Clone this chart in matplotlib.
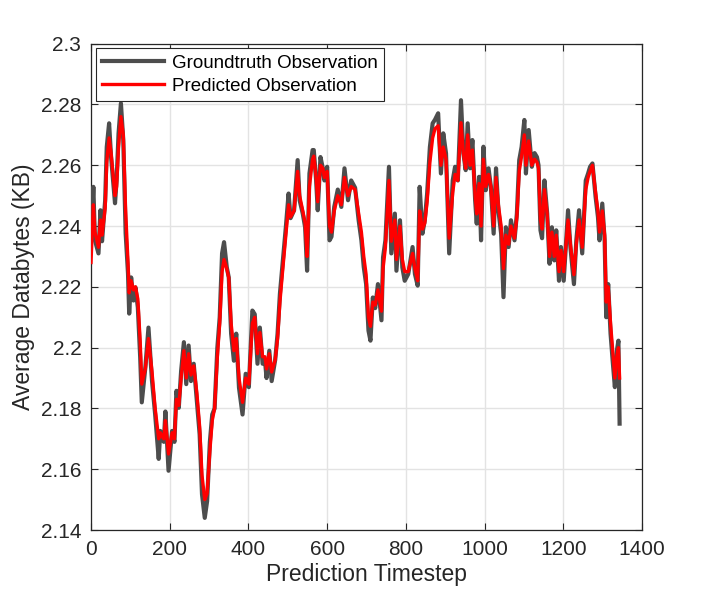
import matplotlib
matplotlib.use("Agg")
import matplotlib.pyplot as plt

timestep = [0, 6, 10, 19, 24, 28, 36, 40, 46, 51, 61, 65, 70, 76, 82, 88, 94, 97, 102, 108,
            113, 119, 125, 129, 138, 146, 155, 163, 172, 176, 180, 185, 189, 197, 206, 212, 217, 223, 229, 236,
            242, 248, 254, 261, 269, 276, 282, 289, 295, 302, 308, 314, 321, 327, 333, 338, 345, 350, 356, 363,
            369, 376, 385, 393, 401, 410, 416, 423, 429, 436, 442, 446, 453, 459, 468, 474, 480, 486, 495, 502,
            507, 516, 525, 530, 538, 544, 549, 555, 563, 566, 572, 576, 583, 589, 593, 600, 606, 611, 618, 627,
            636, 644, 653, 661, 671, 680, 687, 693, 699, 705, 710, 716, 722, 729, 738, 742, 748, 757, 763, 772,
            776, 785, 791, 797, 806, 817, 823, 830, 835, 842, 848, 854, 861, 868, 874, 882, 889, 895, 902, 910,
            919, 925, 932, 940, 946, 952, 957, 963, 969, 976, 980, 986, 991, 997, 1003, 1010, 1016, 1023, 1029, 1035,
            1042, 1048, 1054, 1061, 1067, 1076, 1082, 1088, 1094, 1101, 1105, 1112, 1120, 1127, 1133, 1137, 1142, 1146, 1152, 1159,
            1165, 1171, 1177, 1182, 1189, 1194, 1201, 1212, 1218, 1227, 1233, 1240, 1248, 1257, 1263, 1268, 1274, 1282, 1288, 1292,
            1299, 1305, 1309, 1314, 1320, 1326, 1331, 1336, 1340, 1343]

groundtruth = [2.2360, 2.2529, 2.2353, 2.2310, 2.2452, 2.2350, 2.2485, 2.2660, 2.2738, 2.2627, 2.2475, 2.2550, 2.2705, 2.2804, 2.2683, 2.2376, 2.2244, 2.2112, 2.2231, 2.2155,
               2.2198, 2.2132, 2.1967, 2.1820, 2.1934, 2.2066, 2.1890, 2.1780, 2.1634, 2.1726, 2.1703, 2.1690, 2.1790, 2.1595, 2.1726, 2.1690, 2.1858, 2.1802, 2.1924, 2.2018,
               2.1880, 2.2007, 2.1890, 2.1947, 2.1825, 2.1715, 2.1518, 2.1440, 2.1495, 2.1690, 2.1780, 2.1800, 2.2000, 2.2100, 2.2310, 2.2347, 2.2264, 2.2231, 2.2046, 2.1957,
               2.2046, 2.1868, 2.1780, 2.1914, 2.1870, 2.2122, 2.2110, 2.1947, 2.2066, 2.1947, 2.1957, 2.1900, 2.1990, 2.1890, 2.1960, 2.2046, 2.2178, 2.2264, 2.2396, 2.2507,
               2.2426, 2.2452, 2.2617, 2.2485, 2.2441, 2.2396, 2.2253, 2.2573, 2.2650, 2.2650, 2.2550, 2.2452, 2.2627, 2.2590, 2.2550, 2.2595, 2.2353, 2.2365, 2.2463, 2.2520,
               2.2463, 2.2590, 2.2485, 2.2550, 2.2526, 2.2419, 2.2353, 2.2265, 2.2209, 2.2056, 2.2023, 2.2165, 2.2130, 2.2209, 2.2090, 2.2297, 2.2353, 2.2595, 2.2310, 2.2441,
               2.2253, 2.2419, 2.2264, 2.2220, 2.2242, 2.2331, 2.2242, 2.2204, 2.2529, 2.2375, 2.2419, 2.2507, 2.2660, 2.2738, 2.2750, 2.2771, 2.2573, 2.2705, 2.2639, 2.2310,
               2.2550, 2.2595, 2.2550, 2.2814, 2.2640, 2.2584, 2.2738, 2.2590, 2.2683, 2.2485, 2.2408, 2.2562, 2.2353, 2.2661, 2.2518, 2.2590, 2.2529, 2.2375, 2.2590, 2.2452,
               2.2375, 2.2166, 2.2396, 2.2331, 2.2419, 2.2353, 2.2441, 2.2617, 2.2660, 2.2749, 2.2573, 2.2716, 2.2595, 2.2640, 2.2627, 2.2600, 2.2386, 2.2360, 2.2550, 2.2441,
               2.2276, 2.2396, 2.2287, 2.2386, 2.2220, 2.2331, 2.2220, 2.2452, 2.2331, 2.2209, 2.2353, 2.2452, 2.2310, 2.2550, 2.2573, 2.2595, 2.2606, 2.2496, 2.2430, 2.2353,
               2.2474, 2.2353, 2.2100, 2.2209, 2.2046, 2.1947, 2.1870, 2.1990, 2.2023, 2.1750]

predicted = [2.2280, 2.2470, 2.2380, 2.2330, 2.2420, 2.2370, 2.2460, 2.2610, 2.2690, 2.2640, 2.2500, 2.2530, 2.2660, 2.2760, 2.2700, 2.2450, 2.2280, 2.2180, 2.2220, 2.2190,
             2.2200, 2.2160, 2.2020, 2.1880, 2.1930, 2.2030, 2.1920, 2.1800, 2.1700, 2.1720, 2.1710, 2.1700, 2.1760, 2.1650, 2.1720, 2.1700, 2.1830, 2.1810, 2.1900, 2.1990,
             2.1900, 2.1980, 2.1910, 2.1940, 2.1850, 2.1740, 2.1580, 2.1500, 2.1520, 2.1660, 2.1760, 2.1800, 2.1970, 2.2080, 2.2250, 2.2290, 2.2260, 2.2230, 2.2080, 2.1990,
             2.2030, 2.1900, 2.1820, 2.1900, 2.1880, 2.2080, 2.2100, 2.1980, 2.2050, 2.1970, 2.1970, 2.1930, 2.1980, 2.1920, 2.1960, 2.2030, 2.2150, 2.2240, 2.2370, 2.2470,
             2.2430, 2.2450, 2.2580, 2.2500, 2.2450, 2.2410, 2.2300, 2.2530, 2.2620, 2.2630, 2.2560, 2.2480, 2.2600, 2.2590, 2.2560, 2.2580, 2.2400, 2.2380, 2.2450, 2.2500,
             2.2470, 2.2560, 2.2500, 2.2530, 2.2520, 2.2440, 2.2380, 2.2300, 2.2240, 2.2100, 2.2070, 2.2150, 2.2140, 2.2190, 2.2120, 2.2260, 2.2330, 2.2550, 2.2350, 2.2420,
             2.2290, 2.2400, 2.2290, 2.2250, 2.2250, 2.2310, 2.2260, 2.2220, 2.2450, 2.2390, 2.2410, 2.2480, 2.2610, 2.2690, 2.2720, 2.2730, 2.2600, 2.2660, 2.2620, 2.2360,
             2.2510, 2.2570, 2.2550, 2.2740, 2.2640, 2.2590, 2.2700, 2.2600, 2.2650, 2.2500, 2.2440, 2.2540, 2.2400, 2.2620, 2.2530, 2.2570, 2.2530, 2.2400, 2.2560, 2.2470,
             2.2400, 2.2260, 2.2370, 2.2340, 2.2400, 2.2360, 2.2430, 2.2580, 2.2630, 2.2700, 2.2600, 2.2680, 2.2600, 2.2620, 2.2610, 2.2590, 2.2420, 2.2390, 2.2520, 2.2440,
             2.2300, 2.2380, 2.2300, 2.2370, 2.2250, 2.2320, 2.2250, 2.2420, 2.2340, 2.2240, 2.2340, 2.2420, 2.2330, 2.2520, 2.2560, 2.2580, 2.2600, 2.2510, 2.2450, 2.2380,
             2.2450, 2.2370, 2.2150, 2.2200, 2.2080, 2.1980, 2.1900, 2.1970, 2.2000, 2.1900]

xticks = [0, 200, 400, 600, 800, 1000, 1200, 1400]
yticks = [2.14, 2.16, 2.18, 2.2, 2.22, 2.24, 2.26, 2.28, 2.3]
ytick_labels = ["2.14", "2.16", "2.18", "2.2", "2.22", "2.24", "2.26", "2.28", "2.3"]

plt.rcParams['font.family'] = ['Liberation Sans', 'DejaVu Sans']

fig = plt.figure(figsize=(7.06, 5.95), dpi=100)
ax = fig.add_axes([0.1289, 0.1092, 0.7805, 0.8174])

ax.plot(timestep, groundtruth, color='#4d4d4d', lw=3.0, label='Groundtruth Observation', zorder=3)
ax.plot(timestep, predicted, color='#ff0000', lw=2.4, label='Predicted Observation', zorder=4)

ax.set_xlim(0, 1400)
ax.set_ylim(2.14, 2.3)
ax.set_xticks(xticks)
ax.set_yticks(yticks)
ax.set_yticklabels(ytick_labels)
ax.grid(True, color='#e3e3e3', lw=1.0, zorder=0)
ax.set_axisbelow(True)
ax.tick_params(direction='in', top=True, right=True, length=5, width=0.8,
               labelsize=15, pad=7, colors='#262626')
for s in ax.spines.values():
    s.set_color('#262626')
    s.set_linewidth(0.9)

ax.set_xlabel('Prediction Timestep', fontsize=16.5, color='#262626', labelpad=3)
ax.set_ylabel('Average Databytes (KB)', fontsize=16.5, color='#262626', labelpad=4)

leg = ax.legend(loc='upper left', fontsize=13.5, frameon=True, fancybox=False,
                handlelength=3.3, borderaxespad=0.25, borderpad=0.35, labelspacing=0.3,
                handletextpad=0.4)
leg.get_frame().set_edgecolor('#262626')
leg.get_frame().set_linewidth(0.8)
leg.get_frame().set_alpha(1.0)

fig.savefig('out.png', dpi=100)
